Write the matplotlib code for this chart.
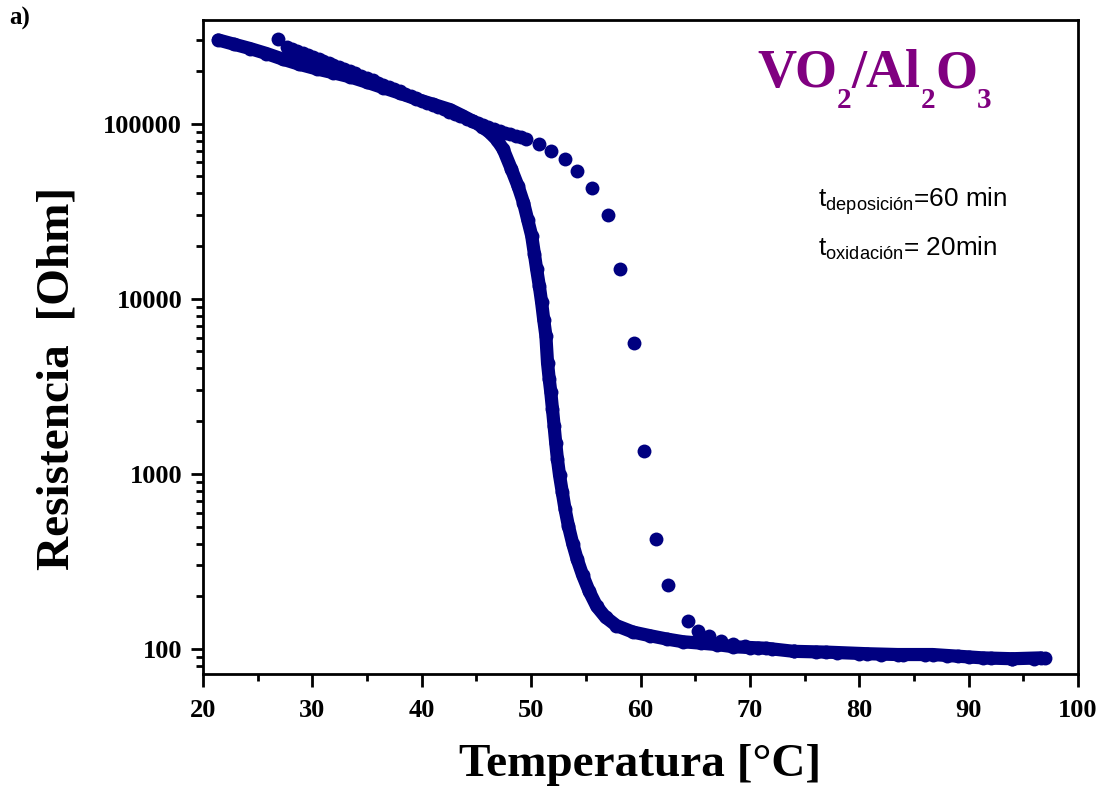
import matplotlib
matplotlib.use("Agg")
import matplotlib.pyplot as plt
from matplotlib.ticker import FixedLocator, NullFormatter, MultipleLocator

# Cooling branch (dense)
T_cool = [21.4, 22.8, 24.3, 25.8, 27.3, 28.8, 30.4, 31.9, 33.4, 35.0, 36.5, 38.0, 39.5, 41.0,
          42.6, 43.7, 44.7, 45.5, 46.2, 46.85, 47.45, 48.2, 48.8, 49.3, 49.7, 50.05, 50.3, 50.5,
          50.75, 50.96, 51.15, 51.35, 51.5, 51.65, 51.8, 51.95, 52.1, 52.25, 52.4, 52.6, 52.85,
          53.1, 53.4, 53.8, 54.2, 54.7, 55.3, 56.0, 56.8, 57.8, 59.3, 60.9, 62.4, 63.9, 65.5,
          67.0, 68.5, 70.0, 71.5, 74.0, 77.0, 80.7, 83.5, 86.7, 89.0, 91.3, 94.0, 96.6]
R_cool = [300000, 284000, 268000, 251000, 233000, 218000, 205000, 195000, 185000, 172000,
          160000, 149000, 138000, 129000, 120000, 111000, 103000, 96000, 89000, 81000, 71300,
          54800, 44000, 35400, 28000, 22900, 18000, 14800, 11800, 9530, 7600, 6140, 4300, 3500,
          2920, 2350, 1880, 1500, 1220, 980, 785, 630, 507, 400, 327, 265, 214, 175, 152, 136,
          125, 119, 114, 110, 108, 106, 103, 102, 101, 97, 96, 94, 93, 93, 91, 89, 88, 89]

# Heating branch
T_heat = [26.9, 27.65, 28.1, 28.6, 29.1, 29.6, 30.1, 30.6, 31.0, 31.5, 31.9, 32.4, 32.9, 33.4,
          33.9, 34.4, 34.96, 35.5, 36.0, 36.5, 37.0, 37.5, 38.0, 38.5, 39.0, 39.5, 40.0, 40.5,
          41.05, 41.5, 42.0, 42.5, 43.0, 43.5, 44.1, 44.6, 45.1, 45.6, 46.1, 46.6, 47.15, 47.6,
          48.1, 48.6, 49.1, 49.5, 50.7, 51.8, 53.1, 54.2, 55.6, 57.0, 58.1, 59.4, 60.3, 61.4,
          62.5, 64.3, 65.3, 66.3, 67.4, 68.5, 69.6, 70.7, 72.0, 74.0, 76.0, 78.0, 80.0, 82.0,
          84.0, 86.0, 88.0, 90.0, 92.0, 94.0, 96.0, 97.0]
R_heat = [305000, 273500, 266700, 259400, 252300, 245500, 238800, 232300, 227500, 221300,
          216800, 210900, 204600, 199100, 193200, 187900, 182000, 176600, 171400, 166300,
          161800, 157000, 152800, 148300, 143900, 139600, 135200, 131200, 127100, 123900,
          120500, 117000, 113800, 110400, 106700, 104000, 101200, 98400, 95700, 93100, 90400,
          88500, 86700, 84900, 83600, 82000, 76000, 69800, 62400, 53400, 42700, 29900, 14800,
          5560, 1355, 426, 233, 144, 126, 118, 111, 107, 104, 102, 100, 98, 96, 95, 94, 93,
          92, 92, 91, 90, 89, 88, 88, 89]

x_ticks = [20, 30, 40, 50, 60, 70, 80, 90, 100]
y_ticks = [100, 1000, 10000, 100000]
y_ticklabels = ["100", "1000", "10000", "100000"]

W, H = 1105, 794
fig = plt.figure(figsize=(W / 100, H / 100), dpi=100)
ax = fig.add_axes([203 / W, 1 - 674 / H, (1078 - 203) / W, (674 - 20) / H])

navy = "#000080"
ax.plot(T_cool, R_cool, "-o", color=navy, lw=9.5, ms=10, mew=0,
        solid_capstyle="round", solid_joinstyle="round")
ax.plot(T_heat, R_heat, "o", color=navy, ms=10, mew=0)

ax.set_yscale("log")
ax.set_xlim(20, 100)
ax.set_ylim(72, 390000)

serif = "Liberation Serif"
ax.set_xticks(x_ticks)
ax.set_xticklabels([str(v) for v in x_ticks], fontfamily=serif, fontweight="bold", fontsize=19)
ax.xaxis.set_minor_locator(MultipleLocator(5))
ax.set_yticks(y_ticks)
ax.set_yticklabels(y_ticklabels, fontfamily=serif, fontweight="bold", fontsize=19)
ax.yaxis.set_minor_locator(FixedLocator([m * 10 ** e for e in range(1, 6) for m in range(2, 10)]))
ax.yaxis.set_minor_formatter(NullFormatter())

ax.tick_params(which="major", direction="out", length=9, width=2, pad=6)
ax.tick_params(which="minor", direction="out", length=5, width=2)
ax.tick_params(axis="x", which="major", pad=9)
for s in ax.spines.values():
    s.set_linewidth(2)

ax.set_xlabel("Temperatura [°C]", fontfamily=serif, fontweight="bold", fontsize=34, labelpad=16)
ax.set_ylabel("Resistencia  [Ohm]", fontfamily=serif, fontweight="bold", fontsize=34)
ax.yaxis.set_label_coords((78 - 203) / 875, (674 - 378) / 654)

renderer = fig.canvas.get_renderer()

# VO2/Al2O3 title built from pieces
purple = "#800080"
x = 757.0
pieces = [("VO", 39, 87), ("2", 21, 108), ("/Al", 39, 87), ("2", 21, 108),
          ("O", 39, 87), ("3", 21, 108)]
for txt, size, base in pieces:
    t = fig.text(x / W, 1 - base / H, txt, fontfamily=serif, fontweight="bold",
                 fontsize=size, color=purple, va="baseline", ha="left")
    bb = t.get_window_extent(renderer)
    x = bb.x1

sans = "Liberation Sans"
fig.text(818 / W, 1 - 217 / H, r"$\mathregular{t_{deposición}}$=60 min", fontfamily=sans,
         fontsize=18.8, va="bottom", ha="left")
fig.text(818 / W, 1 - 262 / H, r"$\mathregular{t_{oxidación}}$= 20min", fontfamily=sans,
         fontsize=18.8, va="bottom", ha="left")

fig.text(9 / W, 1 - 30 / H, "a)", fontfamily=serif, fontweight="bold", fontsize=18,
         va="bottom", ha="left")

fig.savefig("out.png", dpi=100)
